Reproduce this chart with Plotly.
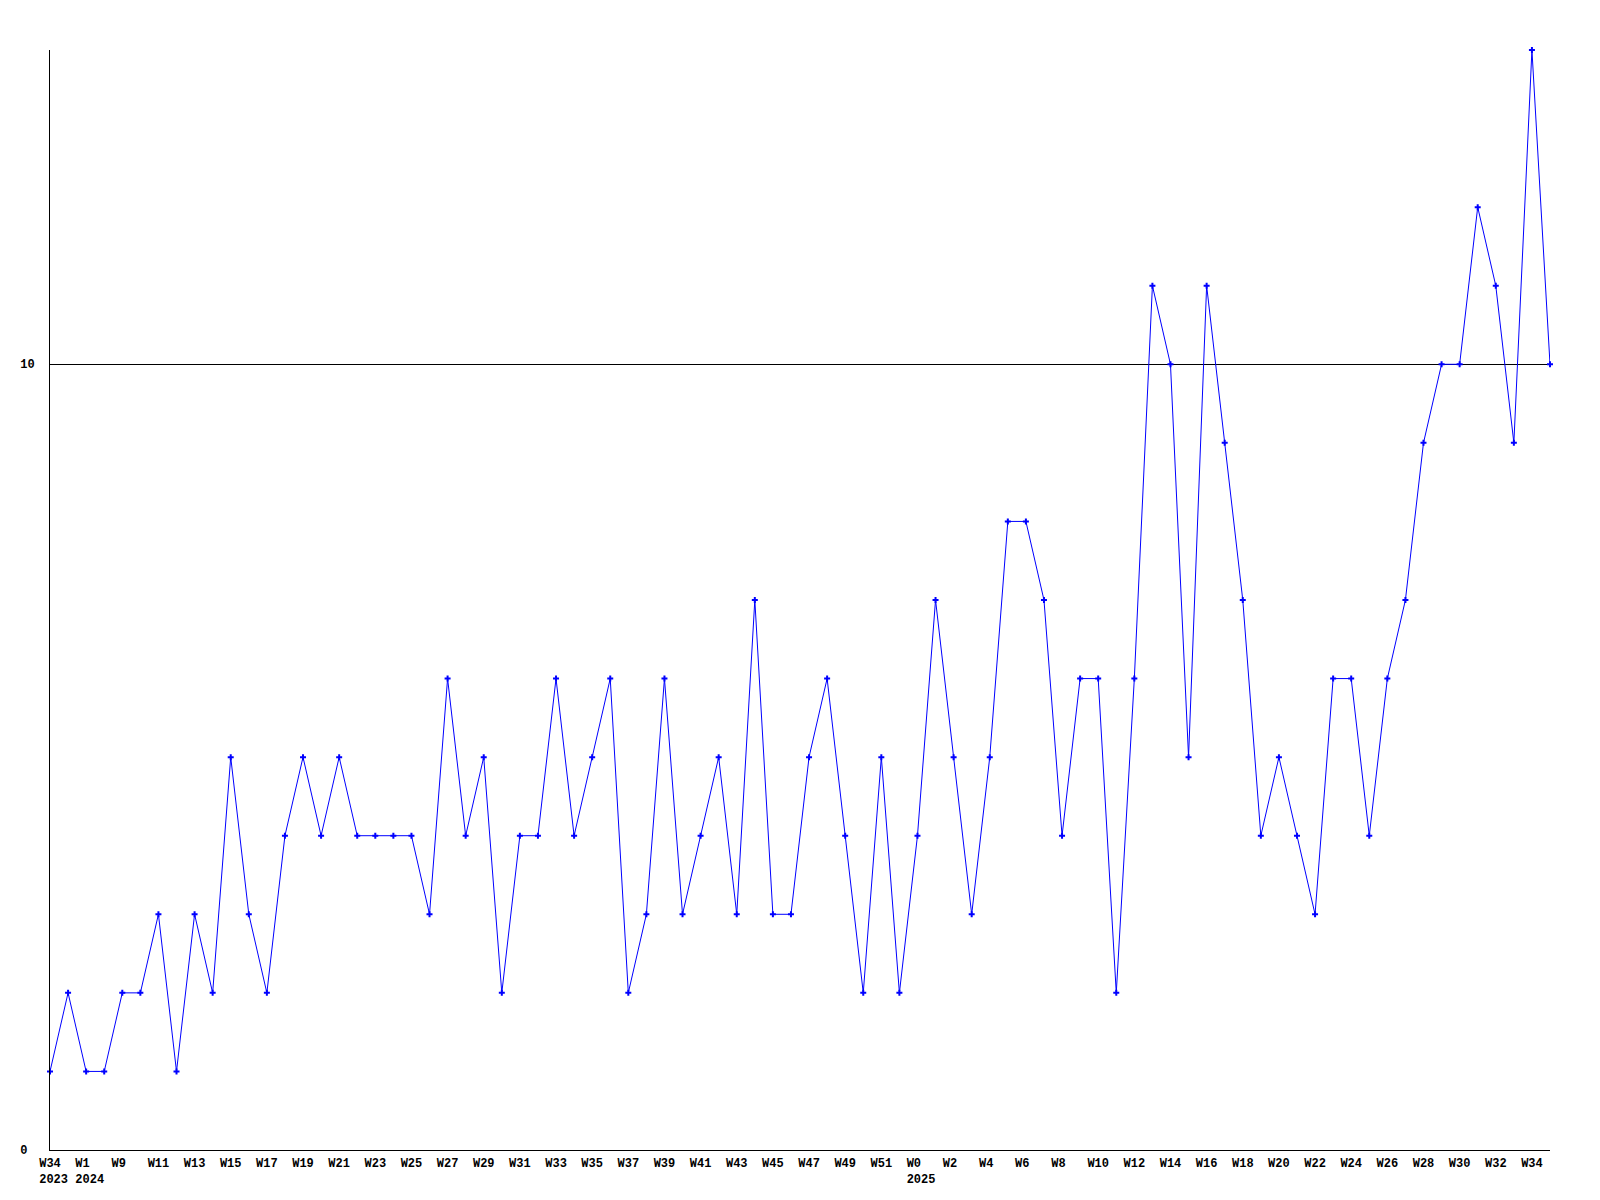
import plotly.graph_objects as go

# Week categories (x axis order)
weeks = (["W34", "W52", "W1", "W8"]
         + [f"W{w}" for w in range(9, 53)]
         + [f"W{w}" for w in range(0, 36)])
years = (["2023", "2023", "2024", "2024"]
         + ["2024"] * 44
         + ["2025"] * 36)

values = [1, 2, 1, 1, 2, 2, 3, 1, 3, 2,
          5, 3, 2, 4, 5, 4, 5, 4, 4, 4,
          4, 3, 6, 4, 5, 2, 4, 4, 6, 4,
          5, 6, 2, 3, 6, 3, 4, 5, 3, 7,
          3, 3, 5, 6, 4, 2, 5, 2, 4, 7,
          5, 3, 5, 8, 8, 7, 4, 6, 6, 2,
          6, 11, 10, 5, 11, 9, 7, 4, 5, 4,
          3, 6, 6, 4, 6, 7, 9, 10, 10, 12,
          11, 9, 14, 10]

y_tickvals = [0, 10]
y_ticktext = ["0\u00a0", "10"]

x = list(range(len(weeks)))

# tick labels: every other category; year shown where the year starts
tickvals, ticktext = [], []
prev_year = None
for i in range(0, len(weeks), 2):
    w = weeks[i].ljust(3, "\u00a0")
    if years[i] != prev_year:
        ticktext.append(w + "<br>\u00a0" + years[i])
    else:
        ticktext.append(w)
    prev_year = years[i]
    tickvals.append(i)

font_family = "Liberation Mono, DejaVu Sans Mono, monospace"

fig = go.Figure()
fig.add_trace(go.Scatter(
    x=x, y=values, mode="lines+markers",
    line=dict(color="#0000ff", width=1),
    marker=dict(symbol="cross", size=5, color="#0000ff", line=dict(width=0)),
    cliponaxis=False,
    hoverinfo="skip",
))

fig.update_layout(
    width=1600, height=1200,
    margin=dict(l=50, r=50, t=50, b=50),
    paper_bgcolor="white", plot_bgcolor="white",
    showlegend=False,
    font=dict(family=font_family, size=12, color="black"),
)
fig.update_xaxes(
    range=[0, len(weeks) - 1],
    tickvals=tickvals, ticktext=ticktext,
    tickangle=0, automargin=False,
    showgrid=False, zeroline=False,
    showline=True, linecolor="black", linewidth=1,
    ticks="", ticklabelstandoff=2,
    tickfont=dict(family=font_family, size=12, color="black", weight="bold"),
)
fig.update_yaxes(
    range=[0, 14],
    tickvals=y_tickvals, ticktext=y_ticktext,
    automargin=False,
    showgrid=True, gridcolor="black", gridwidth=1,
    zeroline=False,
    showline=True, linecolor="black", linewidth=1,
    ticks="", ticklabelstandoff=12,
    tickfont=dict(family=font_family, size=12, color="black", weight="bold"),
)

fig.write_html("out.html", config={"displayModeBar": False},
               post_script="document.body.style.margin='0';")
